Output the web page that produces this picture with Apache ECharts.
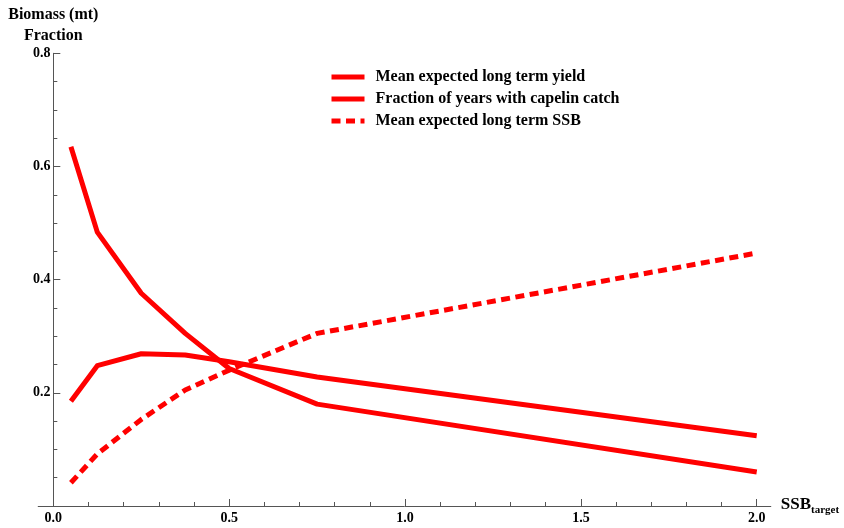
<!DOCTYPE html>
<html>
<head>
<meta charset="utf-8">
<script src="https://cdn.jsdelivr.net/npm/echarts@6/dist/echarts.min.js"></script>
<style>
html,body{margin:0;padding:0;background:#fff;}
#chart{width:844px;height:528px;}
</style>
</head>
<body>
<div id="chart"></div>
<script>
// ---- data ----
const ssbTarget = [0.05, 0.125, 0.25, 0.375, 0.5, 0.75, 2.0];
const yieldMean = [0.185, 0.248, 0.269, 0.267, 0.255, 0.228, 0.124];
const fractionCatch = [0.635, 0.484, 0.376, 0.305, 0.243, 0.180, 0.060];
const ssbMean = [0.041, 0.092, 0.153, 0.205, 0.240, 0.305, 0.447];

const seriesNames = ['Mean expected long term yield', 'Fraction of years with capelin catch', 'Mean expected long term SSB'];
const xMajorTicks = [0.0, 0.5, 1.0, 1.5, 2.0];
const xMinorTicks = [0.1, 0.2, 0.3, 0.4, 0.6, 0.7, 0.8, 0.9, 1.1, 1.2, 1.3, 1.4, 1.6, 1.7, 1.8, 1.9];
const yTickLabels = [0.2, 0.4, 0.6, 0.8];

const pairs = (xs, ys) => xs.map((x, i) => [x, ys[i]]);

const serif = '"Liberation Serif", "DejaVu Serif", serif';
const axisColor = '#555';
const red = '#ff0000';

const chart = echarts.init(document.getElementById('chart'), null, {renderer: 'canvas'});
chart.setOption({
  animation: false,
  backgroundColor: '#fff',
  grid: {left: 38.2, right: 73.2, top: 53.3, bottom: 22, containLabel: false},
  legend: {
    orient: 'vertical',
    left: 324,
    top: 64,
    itemWidth: 33,
    itemHeight: 16,
    itemGap: 6,
    lineStyle: {width: 5},
    itemStyle: {opacity: 0},
    textStyle: {fontFamily: serif, fontWeight: 'bold', fontSize: 16, color: '#000', padding: [0, 0, 0, 6]},
    data: seriesNames
  },
  xAxis: [{
    type: 'value',
    min: -0.043,
    max: 2.04,
    position: 'bottom',
    name: '{m|SSB}{s|target}',
    nameLocation: 'end',
    nameGap: 10,
    nameTextStyle: {
      rich: {
        m: {fontFamily: serif, fontWeight: 'bold', fontSize: 17, color: '#000', verticalAlign: 'bottom', lineHeight: 19, padding: [0, 0, 2, 0]},
        s: {fontFamily: serif, fontWeight: 'bold', fontSize: 11, color: '#000', verticalAlign: 'bottom', lineHeight: 19}
      }
    },
    axisLine: {show: true, onZero: true, lineStyle: {color: axisColor, width: 1}},
    axisTick: {show: true, inside: true, length: 7, customValues: xMajorTicks, lineStyle: {color: axisColor}},
    axisLabel: {
      show: true, margin: 5, customValues: xMajorTicks,
      formatter: v => Number(v).toFixed(1),
      fontFamily: serif, fontWeight: 'bold', fontSize: 14, color: '#000'
    },
    splitLine: {show: false}
  }, {
    type: 'value',
    min: -0.043,
    max: 2.04,
    position: 'bottom',
    axisLine: {show: false},
    axisTick: {show: true, inside: true, length: 4, customValues: xMinorTicks, lineStyle: {color: axisColor}},
    axisLabel: {show: false},
    splitLine: {show: false}
  }],
  yAxis: {
    type: 'value',
    min: 0,
    max: 0.8,
    interval: 0.2,
    name: 'Biomass (mt)\nFraction',
    nameLocation: 'end',
    nameGap: 6.5,
    nameTextStyle: {fontFamily: serif, fontWeight: 'bold', fontSize: 16, color: '#000', align: 'center', lineHeight: 21},
    axisLine: {show: true, onZero: true, lineStyle: {color: axisColor, width: 1}},
    axisTick: {show: true, inside: true, length: 7, lineStyle: {color: axisColor}},
    minorTick: {show: true, splitNumber: 4, length: 4, lineStyle: {color: axisColor}},
    axisLabel: {
      show: true, margin: -12.3, customValues: yTickLabels,
      formatter: v => Number(v).toFixed(1),
      fontFamily: serif, fontWeight: 'bold', fontSize: 14, color: '#000'
    },
    splitLine: {show: false},
    minorSplitLine: {show: false}
  },
  series: [{
    name: seriesNames[0], type: 'line', xAxisIndex: 0, symbol: 'none',
    data: pairs(ssbTarget, yieldMean),
    lineStyle: {color: red, width: 5, join: 'round'}, itemStyle: {color: red}
  }, {
    name: seriesNames[1], type: 'line', xAxisIndex: 0, symbol: 'none',
    data: pairs(ssbTarget, fractionCatch),
    lineStyle: {color: red, width: 5, join: 'round'}, itemStyle: {color: red}
  }, {
    name: seriesNames[2], type: 'line', xAxisIndex: 0, symbol: 'none',
    data: pairs(ssbTarget, ssbMean),
    lineStyle: {color: red, width: 5, type: [9, 5.5], cap: 'butt'}, itemStyle: {color: red}
  }]
});
</script>
</body>
</html>
